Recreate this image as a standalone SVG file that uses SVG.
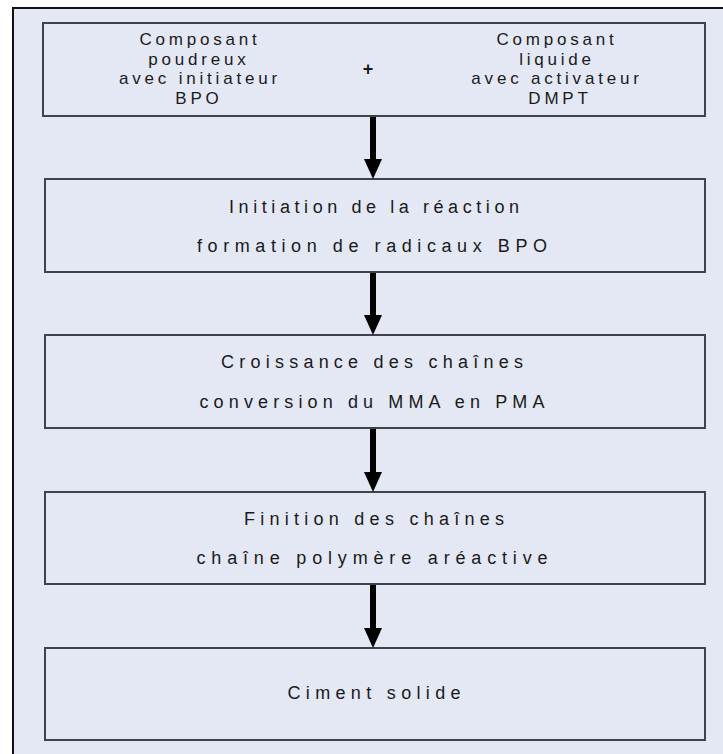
<svg xmlns="http://www.w3.org/2000/svg" width="723" height="754" viewBox="0 0 723 754">
<defs>
<style>
.bg{fill:#e4e8f4}
.box{fill:#e4e8f4;stroke:#404448;stroke-width:2}
.t{font-family:"Liberation Sans",Arial,sans-serif;font-size:18px;fill:#1a1a1a;text-anchor:middle}
.h{font-size:17px;letter-spacing:3.8px}
.shaft{stroke:#000;stroke-width:6;fill:none}
.head{fill:#000}
</style>
</defs>
<rect x="0" y="0" width="723" height="754" fill="#ffffff"/>
<rect x="13" y="8" width="720" height="760" class="bg" stroke="#111" stroke-width="2"/>
<g id="node-1">
<rect x="43" y="23" width="662" height="93" class="box"/>
<text class="t h" x="200" y="45">Composant</text>
<text class="t h" x="199" y="64.5">poudreux</text>
<text class="t h" x="200" y="84">avec initiateur</text>
<text class="t h" x="199" y="103.5">BPO</text>
<text class="t" x="368" y="75" font-weight="bold" font-size="24">+</text>
<text class="t h" x="557" y="45">Composant</text>
<text class="t h" x="557" y="64.5">liquide</text>
<text class="t h" x="557" y="84">avec activateur</text>
<text class="t h" x="560" y="103.5">DMPT</text>
</g>
<g id="node-2">
<rect x="45" y="179" width="660" height="93" class="box"/>
<text class="t" x="374" y="213" textLength="290" lengthAdjust="spacing">Initiation de la réaction</text>
<text class="t" x="372" y="252" textLength="350" lengthAdjust="spacing">formation de radicaux BPO</text>
</g>
<g id="node-3">
<rect x="45" y="335" width="660" height="93" class="box"/>
<text class="t" x="372" y="368" textLength="302" lengthAdjust="spacing">Croissance des chaînes</text>
<text class="t" x="372" y="408" textLength="345" lengthAdjust="spacing">conversion du MMA en PMA</text>
</g>
<g id="node-4">
<rect x="45" y="492" width="660" height="92" class="box"/>
<text class="t" x="374" y="525" textLength="260" lengthAdjust="spacing">Finition des chaînes</text>
<text class="t" x="372" y="564" textLength="351" lengthAdjust="spacing">chaîne polymère aréactive</text>
</g>
<g id="node-5">
<rect x="45" y="648" width="660" height="92" class="box"/>
<text class="t" x="374" y="699" textLength="173" lengthAdjust="spacing">Ciment solide</text>
</g>
<g id="connectors">
<line class="shaft" x1="373" y1="117" x2="373" y2="162"/>
<polygon class="head" points="364,159 382,159 373,179"/>
<line class="shaft" x1="373" y1="273" x2="373" y2="318"/>
<polygon class="head" points="364,315 382,315 373,335"/>
<line class="shaft" x1="373" y1="429" x2="373" y2="475"/>
<polygon class="head" points="364,472 382,472 373,492"/>
<line class="shaft" x1="373" y1="585" x2="373" y2="631"/>
<polygon class="head" points="364,628 382,628 373,648"/>
</g>
</svg>
